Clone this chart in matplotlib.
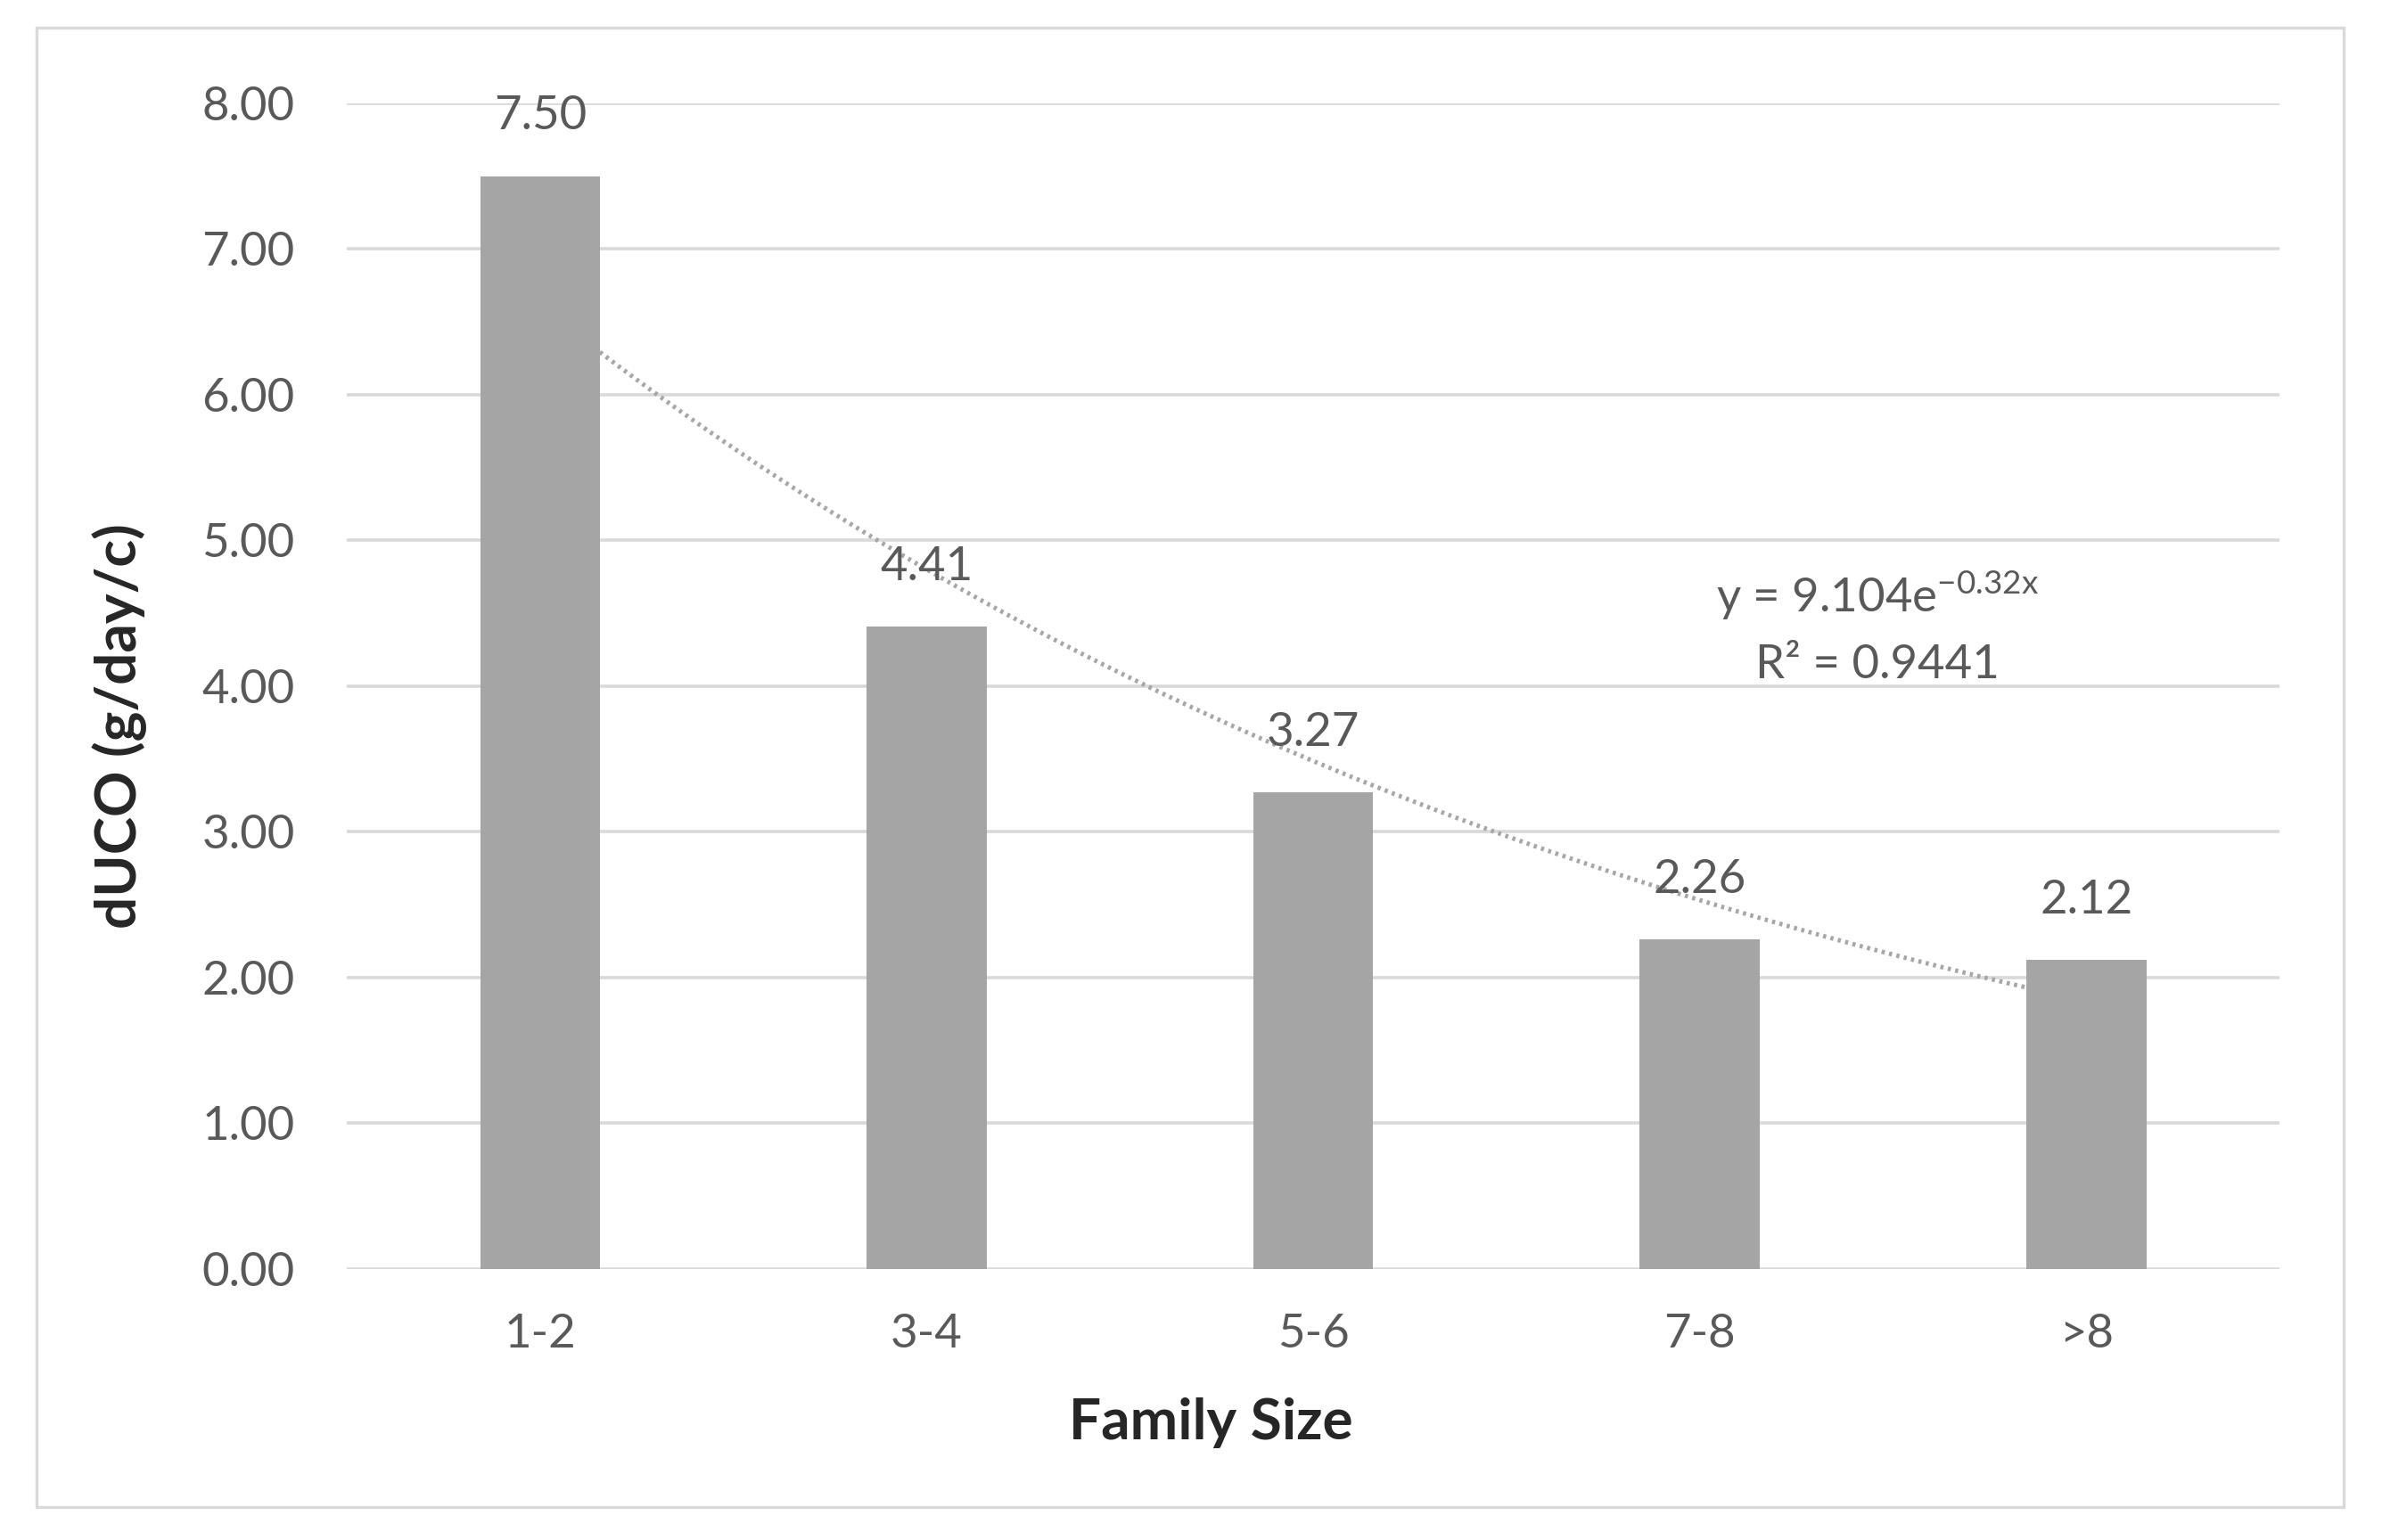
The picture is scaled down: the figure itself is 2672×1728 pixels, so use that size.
import numpy as np
import matplotlib
matplotlib.use("Agg")
import matplotlib.pyplot as plt
from matplotlib.patches import Rectangle

plt.rcParams["font.family"] = ["Lato", "DejaVu Sans"]

# data
categories = ["1-2", "3-4", "5-6", "7-8", ">8"]
duco = [7.50, 4.41, 3.27, 2.26, 2.12]
yticks = [0, 1, 2, 3, 4, 5, 6, 7, 8]

# exponential trendline shown on the chart: y = a * exp(b * x), x = 1..5
trend_a = 9.104
trend_b = -0.32
trend_r2 = 0.9441

BAR = "#a5a5a5"
GRID = "#d9d9d9"
TXT = "#595959"

fig = plt.figure(figsize=(13.36, 8.64), dpi=200)
ax = fig.add_axes([0.1456, 0.176, 0.957 - 0.1456, 0.933 - 0.176])

x = np.arange(len(categories))
ax.bar(x, duco, width=0.31, color=BAR, zorder=3)

# trendline (hidden behind the bars, as in the original)
xt = np.linspace(1, len(categories), 200)
ax.plot(xt - 1, trend_a * np.exp(trend_b * xt), color="#a6a6a6", lw=1.8,
        ls=(0, (0.7, 1.0)), zorder=2)

for xi, v in zip(x, duco):
    ax.annotate(f"{v:.2f}", (xi, v), xytext=(0, 24), textcoords="offset points",
                ha="center", va="center", fontsize=19, color=TXT, zorder=5)

ax.text(3.46, 4.62, r"y = 9.104e$^{\mathregular{-0.32x}}$", ha="center", va="center",
        fontsize=19, color=TXT, zorder=5)
ax.text(3.46, 4.14, f"R² = {trend_r2}", ha="center", va="center",
        fontsize=19, color=TXT, zorder=5)

ax.set_xlim(-0.5, len(categories) - 0.5)
ax.set_ylim(0, 8)
ax.set_yticks(yticks)
ax.set_yticklabels([f"{t:.2f}" for t in yticks])
ax.set_xticks(x)
ax.set_xticklabels(categories)
ax.grid(axis="y", color=GRID, lw=1.3, zorder=0)
ax.set_axisbelow(True)
for s in ax.spines.values():
    s.set_visible(False)
ax.tick_params(axis="both", length=0, labelsize=19, colors=TXT)
ax.tick_params(axis="x", pad=18)
ax.tick_params(axis="y", pad=21)

ax.set_xlabel("Family Size", fontsize=23, fontweight="bold", color="#262626", va="center")
ax.xaxis.set_label_coords(0.447, -0.132)
ax.set_ylabel("dUCO (g/day/c)", fontsize=23, fontweight="bold", color="#262626", va="center")
ax.yaxis.set_label_coords(-0.1176, 0.466)

# chart border
fig.patches.append(Rectangle((0.0153, 0.0214), 0.984 - 0.0153, 0.982 - 0.0214,
                             transform=fig.transFigure, fill=False, edgecolor=GRID, lw=1.2))

fig.savefig("out.png", dpi=200, facecolor="white")
